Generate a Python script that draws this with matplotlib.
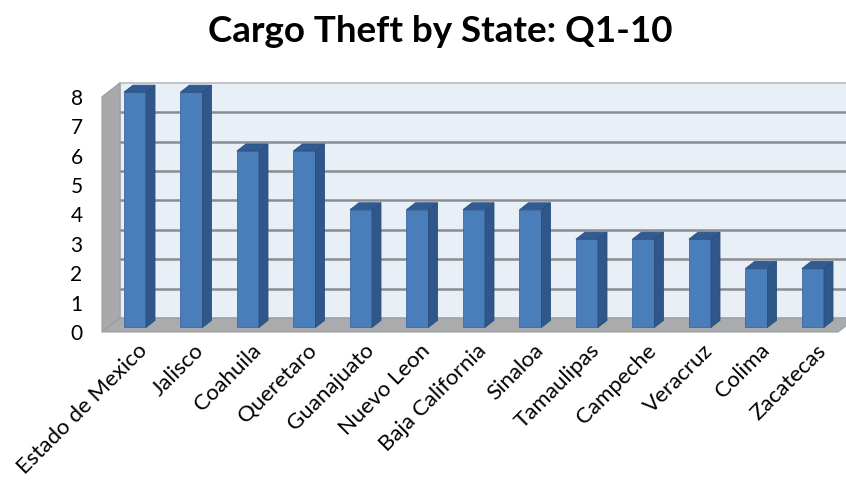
import matplotlib

matplotlib.use("Agg")
import matplotlib.pyplot as plt
import numpy as np

states = [
    "Estado de Mexico", "Jalisco", "Coahuila", "Queretaro", "Guanajuato",
    "Nuevo Leon", "Baja California", "Sinaloa", "Tamaulipas", "Campeche",
    "Veracruz", "Colima", "Zacatecas",
]
thefts = [8, 8, 6, 6, 4, 4, 4, 4, 3, 3, 3, 2, 2]
y_ticks = list(range(9))

# pseudo-3d geometry (data units): depth offset of the back wall
DX, DY = 0.319, 0.476
X_LEFT, X_RIGHT = -0.478, 12.55
BAR_W = 0.39
D0, D1 = 0.33, 0.83  # bar front / back depth fraction

plt.rcParams["font.family"] = ["Lato", "DejaVu Sans"]

fig = plt.figure(figsize=(8.46, 4.87), dpi=100)
ax = fig.add_axes([102 / 846, 155 / 487, 744 / 846, 249 / 487])
ax.set_xlim(X_LEFT, 12.69)
ax.set_ylim(0, 8.47)

top = y_ticks[-1]

# back wall + gridlines
ax.fill([X_LEFT + DX, X_RIGHT + DX, X_RIGHT + DX, X_LEFT + DX],
        [DY, DY, top + DY, top + DY],
        facecolor="#e9eff7", edgecolor="#b8bcc2", lw=1.2, clip_on=False, zorder=1)
for v in y_ticks[1:-1]:
    ax.plot([X_LEFT + DX, X_RIGHT + DX], [v + DY, v + DY], color="#8a8d91",
            lw=1.8, clip_on=False, zorder=2)

# side wall
ax.fill([X_LEFT, X_LEFT, X_LEFT + DX, X_LEFT + DX], [0, top, top + DY, DY],
        facecolor="#a7a9ab", edgecolor="#9a9c9e", lw=0.8, clip_on=False, zorder=3)
# floor
ax.fill([X_LEFT, X_RIGHT, X_RIGHT + DX, X_LEFT + DX], [0, 0, DY, DY],
        facecolor="#a9abad", edgecolor="#9a9c9e", lw=0.8, clip_on=False, zorder=3)

# bars
for i, v in enumerate(thefts):
    left = i - BAR_W / 2 + D0 * DX
    right = i + BAR_W / 2 + D0 * DX
    base = D0 * DY
    ddx, ddy = (D1 - D0) * DX, (D1 - D0) * DY
    ax.fill([left, right, right, left], [base, base, v + base, v + base],
            facecolor="#4a7ebb", edgecolor="#3d6aa3", lw=0.6, zorder=5)
    ax.fill([right, right + ddx, right + ddx, right],
            [base, base + ddy, v + base + ddy, v + base],
            facecolor="#2f578a", edgecolor="#2a4f7e", lw=0.6, zorder=5)
    ax.fill([left, right, right + ddx, left + ddx],
            [v + base, v + base, v + base + ddy, v + base + ddy],
            facecolor="#315c93", edgecolor="#2a4f7e", lw=0.6, zorder=5)

ax.set_yticks(y_ticks)
ax.set_yticklabels([str(t) for t in y_ticks], fontsize=15)
ax.set_xticks(np.arange(len(states)) + 0.15)
ax.set_xticklabels(states, rotation=45, ha="right", rotation_mode="anchor",
                   fontsize=16)
ax.tick_params(axis="y", length=0, pad=14)
ax.tick_params(axis="x", length=0, pad=6)
for s in ax.spines.values():
    s.set_visible(False)
ax.patch.set_visible(False)

fig.text(0.52, 0.97, "Cargo Theft by State: Q1-10", ha="center", va="top",
         fontsize=26.5, fontweight="bold")

fig.savefig("out.png", dpi=100)
